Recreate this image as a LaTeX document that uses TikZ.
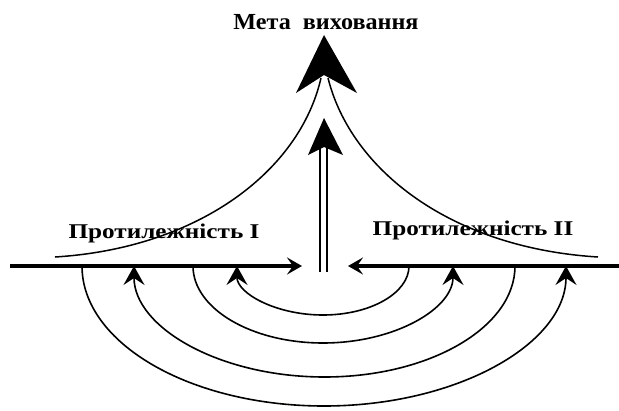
\documentclass[tikz,border=0pt]{standalone}
\usepackage{fontspec}
\setmainfont{Liberation Serif}
\newfontfamily\titlefont[FakeStretch=1.05]{Liberation Serif}
\newfontfamily\lblfont[FakeStretch=1.2]{Liberation Serif}
\usetikzlibrary{arrows.meta,positioning}

\begin{document}
\begin{tikzpicture}[x=1pt,y=-1pt,
  goal/.style={font=\titlefont\bfseries\fontsize{23}{25}\selectfont,inner sep=0pt},
  lbl/.style={font=\lblfont\bfseries\fontsize{21}{23}\selectfont,inner sep=0pt},
  axis/.style={line width=3.2pt,-{Stealth[length=15pt,width=17pt,inset=6pt]}},
  loop/.style={line width=1.6pt,-{Stealth[length=19pt,width=21pt,inset=7pt]}},
  rise/.style={line width=1.5pt},
  head/.style={fill=black},
]
\useasboundingbox (0,0) rectangle (619,410);

% title and the two opposites
\node[goal] (goal) at (326,22) {Мета\ \ виховання};
\node[lbl] (opp1) at (164,233) {Протилежність I};
\node[lbl] (opp2) at (473,230) {Протилежність II};

% points on the base line
\coordinate (axL) at (10,266);
\coordinate (axLtip) at (302,266);
\coordinate (axR) at (619,266);
\coordinate (axRtip) at (348,266);

% the big head and the two curves rising into it
\fill[head] (324,35) -- (357,93) -- (324,75) -- (296,93) -- cycle;
\coordinate (riseL) at (321,78);
\coordinate (riseR) at (328,78);
\coordinate (footL) at (55,257);
\coordinate (footR) at (598,257);
\draw[rise] (riseL) .. controls (300,170) and (200,248) .. (footL);
\draw[rise] (riseR) .. controls (351,170) and (451,248) .. (footR);

% small double arrow
\fill[head] (324,118) -- (343,155) -- (324,147) -- (308,155) -- cycle;
\coordinate (shL) at (320,147);
\coordinate (shR) at (327,147);
\draw[rise] (shL) -- ++(0,125);
\draw[rise] (shR) -- ++(0,125);

% base line
\draw[axis] (axL) -- (axLtip);
\draw[axis] (axR) -- (axRtip);

% loops under the line
\coordinate (a1) at (409,266);
\coordinate (a2) at (193,266);
\coordinate (a3) at (515,266);
\coordinate (a4) at (82,266);
\draw[loop] (a1) arc[start angle=0,end angle=180,x radius=86,y radius=49];
\draw[loop] (a2) arc[start angle=180,end angle=0,x radius=130,y radius=77];
\draw[loop] (a3) arc[start angle=0,end angle=180,x radius=190.5,y radius=111];
\draw[loop] (a4) arc[start angle=180,end angle=0,x radius=242,y radius=140];
\end{tikzpicture}
\end{document}
